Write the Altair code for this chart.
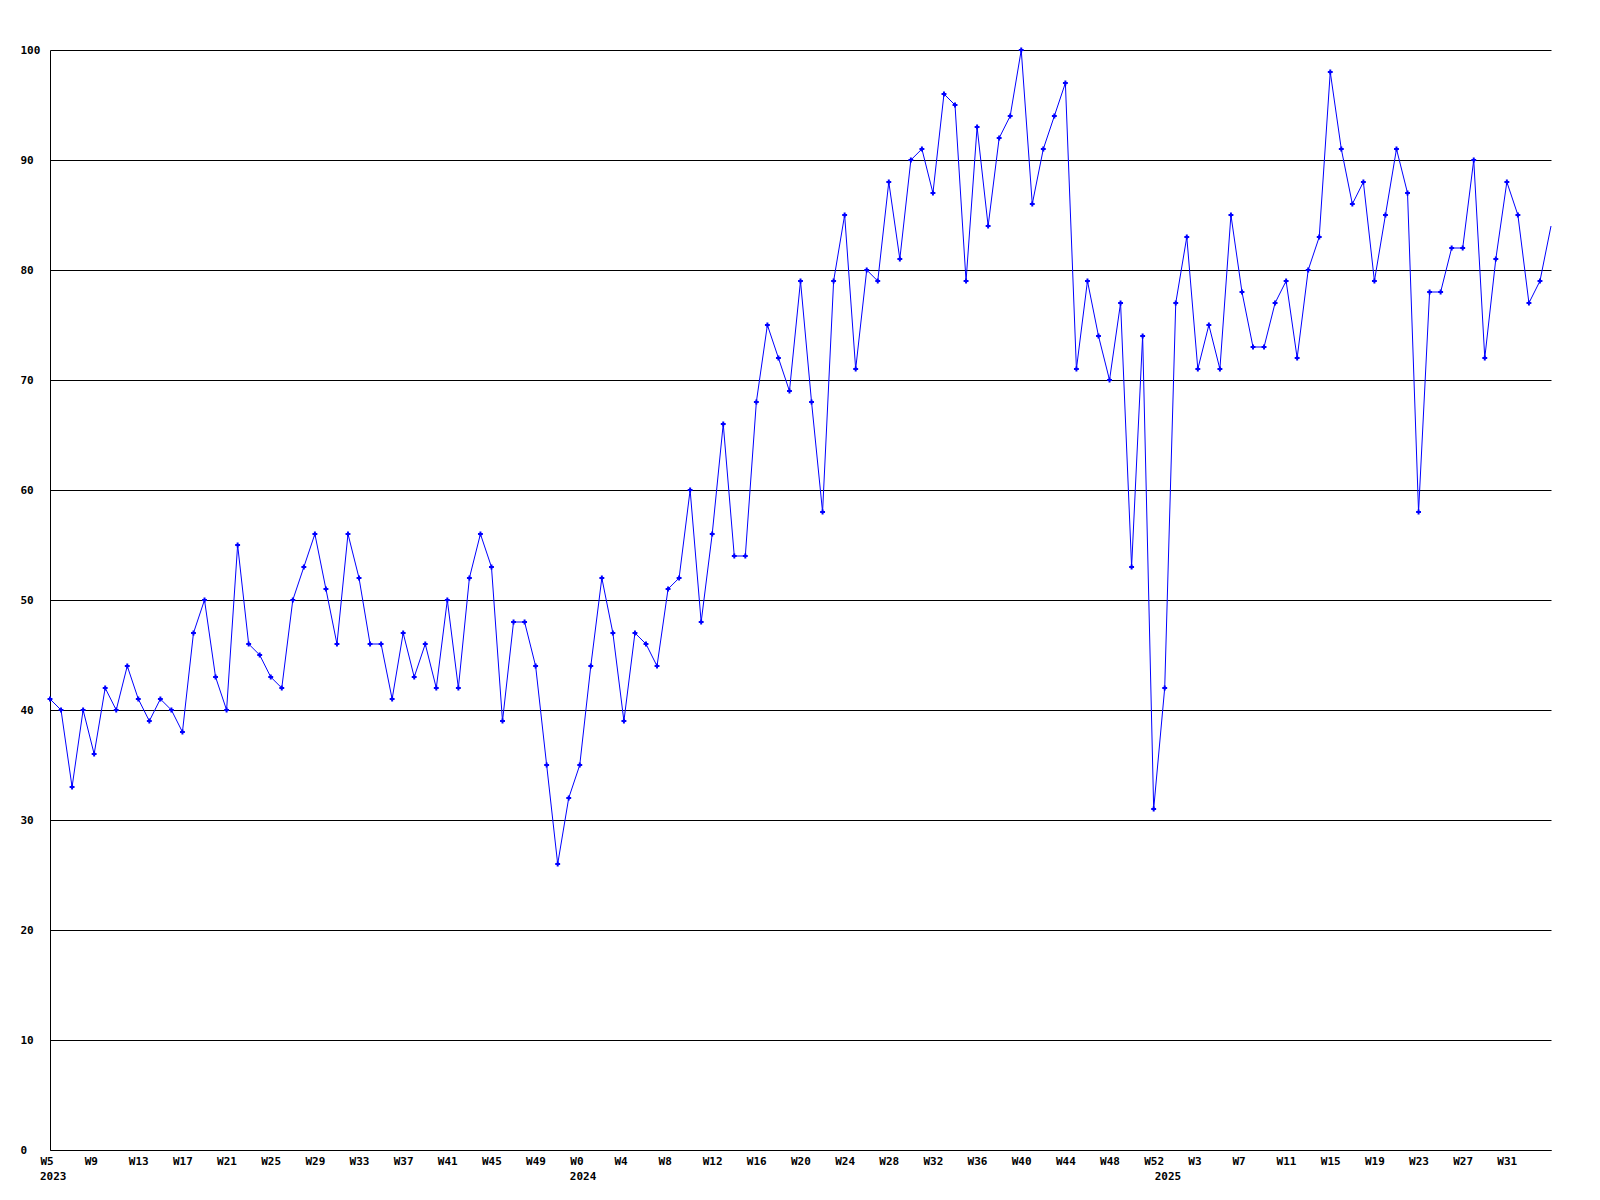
import altair as alt
import pandas as pd

# Year segments of the weekly series
years = ["2023", "2024", "2025"]
first_week = [5, 0, 0]
last_week = [52, 52, 35]

values = [
    # 2023 W5..W52
    41, 40, 33, 40, 36, 42, 40, 44, 41, 39, 41, 40, 38, 47, 50, 43, 40, 55, 46, 45,
    43, 42, 50, 53, 56, 51, 46, 56, 52, 46, 46, 41, 47, 43, 46, 42, 50, 42, 52, 56,
    53, 39, 48, 48, 44, 35, 26, 32,
    # 2024 W0..W52
    35, 44, 52, 47, 39, 47, 46, 44, 51, 52, 60, 48, 56, 66, 54, 54, 68, 75, 72, 69,
    79, 68, 58, 79, 85, 71, 80, 79, 88, 81, 90, 91, 87, 96, 95, 79, 93, 84, 92, 94,
    100, 86, 91, 94, 97, 71, 79, 74, 70, 77, 53, 74, 31,
    # 2025 W0..W35
    42, 77, 83, 71, 75, 71, 85, 78, 73, 73, 77, 79, 72, 80, 83, 98, 91, 86, 88, 79,
    85, 91, 87, 58, 78, 78, 82, 82, 90, 72, 81, 88, 85, 77, 79, 84,
]

y_ticks = [0, 10, 20, 30, 40, 50, 60, 70, 80, 90, 100]

rows = []
year_rows = []
i = 0
for yr, a, b in zip(years, first_week, last_week):
    year_rows.append({"i": i, "year": yr})
    for w in range(a, b + 1):
        rows.append({"i": i, "week": f"W{w}", "year": yr, "value": values[i]})
        i += 1
df = pd.DataFrame(rows)
ydf = pd.DataFrame(year_rows)
n = len(df)

week_labels = list(df["week"])
label_array = "[" + ",".join(f"'{w}'" for w in week_labels) + "]"
x_tick_vals = list(range(0, n - 4, 4))

W, H = 1501, 1100
FONT = "DejaVu Sans Mono"

xscale = alt.Scale(domain=[0, n - 1], nice=False, zero=False)
yscale = alt.Scale(domain=[0, 100], nice=False)

x_enc = alt.X(
    "i:Q",
    scale=xscale,
    axis=alt.Axis(
        values=x_tick_vals,
        labelExpr=label_array + "[datum.value]",
        title=None,
        grid=False,
        ticks=False,
        tickSize=0,
        domainColor="black",
        domainWidth=1,
        labelFont=FONT,
        labelFontWeight="bold",
        labelFontSize=11,
        labelColor="black",
        labelAlign="left",
        labelOffset=-10,
        labelPadding=5,
        labelFlush=False,
        labelOverlap=False,
    ),
)
y_enc = alt.Y(
    "value:Q",
    scale=yscale,
    axis=alt.Axis(
        values=y_ticks,
        title=None,
        grid=True,
        gridColor="black",
        gridOpacity=1,
        gridWidth=1,
        ticks=False,
        tickSize=0,
        domainColor="black",
        domainWidth=1,
        labelFont=FONT,
        labelFontWeight="bold",
        labelFontSize=11,
        labelColor="black",
        labelAlign="left",
        labelBaseline="middle",
        labelPadding=30,
        labelFlush=False,
        labelOverlap=False,
    ),
)

base = alt.Chart(df)
line = base.mark_line(color="#0000ff", strokeWidth=1).encode(x=x_enc, y=y_enc)
pts = (
    base.transform_filter(alt.datum.i < n - 1)
    .mark_point(shape="cross", filled=True, size=24, color="#0000ff", opacity=1)
    .encode(x=alt.X("i:Q", scale=xscale), y=alt.Y("value:Q", scale=yscale))
)
year_text = alt.Chart(ydf).mark_text(
    font=FONT, fontWeight="bold", fontSize=11, color="black",
    align="left", baseline="middle", dx=-10,
).encode(
    x=alt.X("i:Q", scale=xscale),
    y=alt.value(H + 27),
    text="year:N",
)

chart = (
    alt.layer(line, pts, year_text)
    .properties(
        width=W,
        height=H,
        autosize=alt.AutoSizeParams(type="none"),
        padding={"left": 42, "top": 42, "right": 30, "bottom": 40},
        background="white",
    )
    .configure_view(strokeWidth=0)
)

chart.save("out.html", embed_options={"renderer": "svg", "actions": False})
